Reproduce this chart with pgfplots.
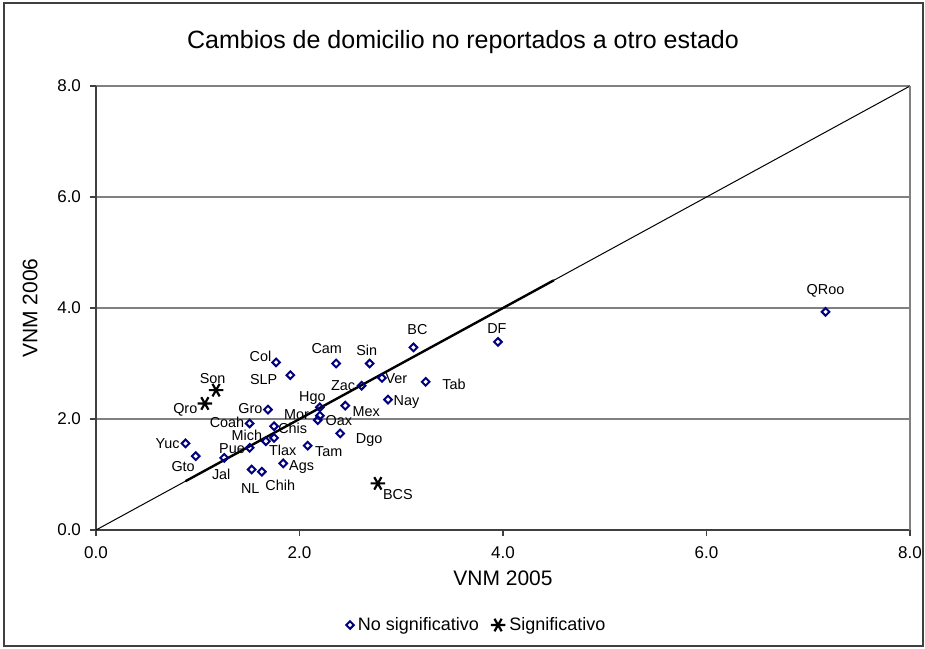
\documentclass[border=0pt]{standalone}
\usepackage{fontspec}
\setmainfont{Liberation Sans}
\usepackage{pgfplots}
\usepackage{pgfplotstable}
\pgfplotsset{compat=1.18}

\definecolor{navy}{RGB}{0,0,128}
\definecolor{gridgray}{RGB}{128,128,128}
\definecolor{axisdark}{RGB}{64,64,64}

% x, y, label, label offset (pt)
\pgfplotstableread{
x    y    lbl  lx    ly
1.77 3.02 Col  -7.8  3.2
1.91 2.79 SLP  -13.3 -2.3
2.36 3.00 Cam  -4.7  7.7
2.69 3.00 Sin  -1.5  6.8
3.12 3.29 BC   2.0   8.8
2.81 2.74 Ver  7.2   -0.3
2.61 2.60 Zac  -9.2  0.0
3.24 2.67 Tab  14.2  -1.3
2.87 2.35 Nay  9.2   -1.3
1.69 2.17 Gro  -8.8  0.7
2.20 2.21 Hgo  -3.7  4.5
2.45 2.24 Mex  10.5  -3.0
2.20 2.06 Mor  -11.7 0.3
2.18 1.98 Oax  10.5  0.0
1.51 1.92 Coah -11.3 0.5
1.75 1.87 Chis 9.3   -1.0
1.67 1.60 Mich -9.5  3.0
1.75 1.66 Tlax 4.3   -6.2
1.51 1.48 Pue  -8.8  -0.3
0.88 1.56 Yuc  -9.0  -0.3
0.98 1.33 Gto  -6.3  -5.0
1.26 1.30 Jal  -1.5  -8.2
2.08 1.52 Tam  10.5  -3.0
2.40 1.74 Dgo  14.5  -3.2
1.84 1.20 Ags  9.2   -2.0
1.53 1.09 NL   -0.7  -9.5
1.63 1.05 Chih 9.2   -6.8
3.95 3.39 DF   -0.5  6.7
7.17 3.93 QRoo 0.0   10.5
}\nosig

\pgfplotstableread{
x    y    lbl  lx    ly
1.18 2.52 Son  -1.7  5.8
1.07 2.28 Qro  -9.8  -3.3
2.77 0.84 BCS  10.0  -5.8
}\sig

\begin{document}
\begin{tikzpicture}
\useasboundingbox (-48pt,-59pt) rectangle (414.5pt,265pt);
\draw[axisdark, line width=0.8pt] (-46pt,-58pt) rectangle (413.5pt,263.5pt);
\begin{axis}[
  scale only axis,
  width=407pt, height=222pt,
  xmin=0, xmax=8, ymin=0, ymax=8,
  xtick={0,2,4,6,8}, ytick={0,2,4,6,8},
  axis lines*=left,
  axis line style={-, axisdark, line width=0.8pt},
  tick style={axisdark, line width=0.6pt},
  tick align=outside,
  major tick length=3pt,
  ymajorgrids,
  grid style={gridgray, line width=0.6pt},
  /pgf/number format/assume math mode=true,
  /pgf/number format/.cd, fixed, fixed zerofill, precision=1,
  /pgfplots/.cd,
  tick label style={font=\fontsize{8.5}{10}\selectfont},
  xticklabel style={yshift=-2pt},
  yticklabel style={xshift=-1pt},
  xlabel={VNM 2005},
  ylabel={VNM 2006},
  label style={font=\fontsize{10.5}{12}\selectfont},
  xlabel style={at={(axis description cs:0.5,0)}, anchor=center, yshift=-24pt},
  ylabel style={at={(axis description cs:-0.081,0.5)}, anchor=center},
  legend style={at={(axis description cs:0.469,-0.214)}, anchor=center,
    draw=none, fill=none, legend columns=2, font=\fontsize{9}{11}\selectfont,
    /tikz/every even column/.append style={column sep=4pt},
    legend cell align=left, inner sep=1pt},
  clip=false,
]
\addplot[black, line width=0.5pt, forget plot] coordinates {(0,0) (8,8)};
\addplot[black, line width=1.2pt, forget plot] coordinates {(0.88,0.88) (4.5,4.5)};
\draw[gridgray, line width=0.6pt] (axis cs:8,0) -- (axis cs:8,8);

\addplot[only marks, mark=square, mark size=1.35pt, navy,
  mark options={line width=1pt, fill=white, rotate=45},
  point meta=explicit symbolic,
  visualization depends on={\thisrow{lx} \as \lblx},
  visualization depends on={\thisrow{ly} \as \lbly},
  nodes near coords,
  every node near coord/.style={anchor=center, inner sep=0pt, black,
    font=\fontsize{7.2}{8}\selectfont, xshift=\lblx pt, yshift=\lbly pt},
] table[x=x, y=y, meta=lbl] {\nosig};
\addlegendentry{No significativo}

\addplot[only marks, mark=asterisk, mark size=3.6pt, black,
  mark options={line width=1.1pt, rotate=90},
  point meta=explicit symbolic,
  visualization depends on={\thisrow{lx} \as \lblx},
  visualization depends on={\thisrow{ly} \as \lbly},
  nodes near coords,
  every node near coord/.style={anchor=center, inner sep=0pt, black,
    font=\fontsize{7.2}{8}\selectfont, xshift=\lblx pt, yshift=\lbly pt},
] table[x=x, y=y, meta=lbl] {\sig};
\addlegendentry{Significativo}
\end{axis}
\node[font=\fontsize{12.5}{15}\selectfont] at (183.5pt,244pt) {Cambios de domicilio no reportados a otro estado};
\end{tikzpicture}
\end{document}
